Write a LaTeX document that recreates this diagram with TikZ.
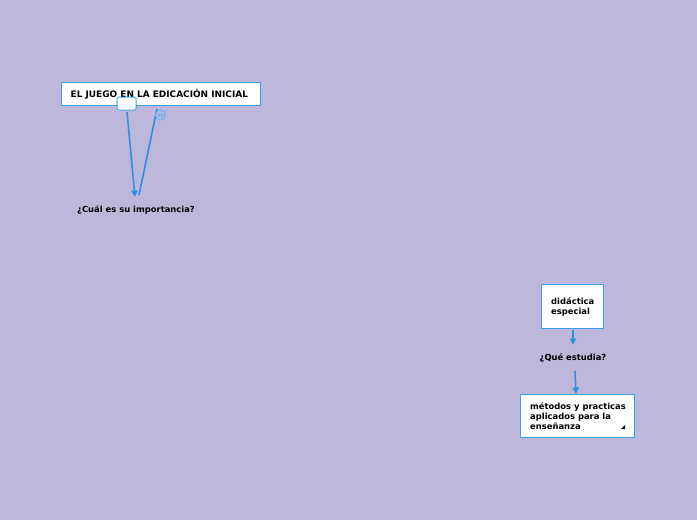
\documentclass[tikz,border=0pt]{standalone}
\usepackage{fontspec}
\setmainfont{DejaVu Sans}
\usetikzlibrary{arrows.meta}
\definecolor{bg}{HTML}{BDB7DB}
\definecolor{bord}{HTML}{3FA0E8}
\definecolor{conn}{HTML}{2A92DE}
\tikzset{
  box/.style={draw=bord, line width=1pt, fill=white, inner sep=0pt},
  txt/.style={font=\bfseries\fontsize{8.4}{10}\selectfont, text=black, align=left, inner sep=0pt},
  conn/.style={draw=conn, line width=1.6pt, -{Triangle[length=6.5pt,width=6pt]}},
}
\begin{document}
\begin{tikzpicture}[x=1pt,y=-1pt]
\useasboundingbox (0,0) rectangle (697,520);
\fill[bg] (0,0) rectangle (697,520);
% title
\draw[box] (61,82) rectangle (260,105);
\node[txt, anchor=west, font=\bfseries\fontsize{8.95}{10}\selectfont] (title) at (70.5,94.3) {EL JUEGO EN LA EDICACIÓN INICIAL};
\draw[box, rounded corners=1.5pt] (117,97) rectangle (136,110);
\coordinate (t1) at (127,112);
\coordinate (t2) at (157,109);
\node[txt, anchor=center] (q1) at (136,210) {¿Cuál es su importancia?};
\coordinate (q1a) at (135,197);
\coordinate (q1b) at (139,195);
\draw[conn] (t1) -- (q1a);
\draw[draw=conn, line width=1.6pt] (q1b) -- (t2);
\draw[draw=bord!80, line width=0.9pt, fill=bg] (160.5,115) circle (5pt);
\node[font=\bfseries\fontsize{5}{5}\selectfont, text=bord!80, inner sep=0pt] (qi) at (160.5,115.6) {99};
% right column
\draw[box] (541,284) rectangle (603,328);
\node[txt, anchor=north west] (d) at (551,297.5) {didáctica\\especial};
\coordinate (da) at (573,330);
\node[txt, anchor=center] (q2) at (573,358) {¿Qué estudia?};
\coordinate (db) at (573,345);
\draw[conn] (da) -- (db);
\coordinate (qa) at (575,371);
\coordinate (qb) at (576,394);
\draw[conn] (qa) -- (qb);
\draw[box] (520,394) rectangle (634,437);
\node[txt, anchor=north west] (m) at (530,403) {métodos y practicas\\aplicados para la\\enseñanza};
\fill[black] (625,425) -- (625,429) -- (621,429) -- cycle;
\end{tikzpicture}
\end{document}
